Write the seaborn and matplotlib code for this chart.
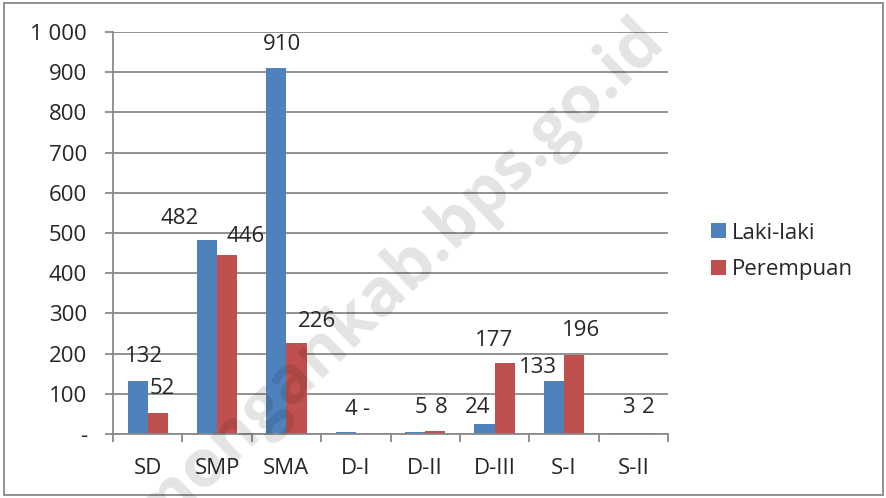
import pandas as pd
import numpy as np
import seaborn as sns
import matplotlib.pyplot as plt
from matplotlib.ticker import FuncFormatter
from matplotlib.patches import Rectangle, Patch

# data
categories = ["SD", "SMP", "SMA", "D-I", "D-II", "D-III", "S-I", "S-II"]
laki = [132, 482, 910, 4, 5, 24, 133, 3]
perempuan = [52, 446, 226, 0, 8, 177, 196, 2]
series = ["Laki-laki", "Perempuan"]
colors = ["#4F81BD", "#C0504D"]

# the data labels were dragged around by hand in the original -> nudges in pixels (dx, dy)
label_nudge = {
    "Laki-laki": [(6, 19), (-27, 16), (6, 18), (5, 17), (6, 19), (-7, 11), (-16, 8), (5, 20)],
    "Perempuan": [(5, 19), (19, 13), (21, 16), (0, 19), (6, 18), (-11, 17), (7, 19), (5, 20)],
}

df = pd.DataFrame({
    "Pendidikan": categories * 2,
    "Jenis Kelamin": [series[0]] * len(categories) + [series[1]] * len(categories),
    "Jumlah": laki + perempuan,
})

sns.set_style("white")
plt.rcParams["font.family"] = ["Open Sans", "DejaVu Sans"]

gray = "#898989"
fs = 16

fig = plt.figure(figsize=(8.86, 4.98), dpi=100)
ax = fig.add_axes([113 / 886, 64 / 498, 555 / 886, 402 / 498])

sns.barplot(data=df, x="Pendidikan", y="Jumlah", hue="Jenis Kelamin",
            palette=dict(zip(series, colors)), saturation=1, width=0.58,
            errorbar=None, linewidth=0, legend=False, ax=ax)

ax.set_xlim(-0.5, len(categories) - 0.5)
ax.set_ylim(0, 1000)
ax.set_yticks(np.arange(0, 1001, 100))
ax.yaxis.set_major_formatter(FuncFormatter(
    lambda v, p: "-" if v == 0 else f"{v:,.0f}".replace(",", " ")))
ax.set_xlabel("")
ax.set_ylabel("")

# axes look
for side in ["top", "right"]:
    ax.spines[side].set_visible(False)
for side in ["left", "bottom"]:
    ax.spines[side].set_color(gray)
    ax.spines[side].set_linewidth(1.3)
ax.set_axisbelow(True)
ax.yaxis.grid(True, color=gray, linewidth=1.3)
ax.xaxis.grid(False)

ax.set_xticks(np.arange(-0.5, len(categories), 1), minor=True)
ax.tick_params(axis="x", which="major", bottom=True, length=0, pad=17, labelsize=fs)
ax.tick_params(axis="x", which="minor", bottom=True, length=5.8, width=1.3, color=gray)
ax.tick_params(axis="y", left=True, length=5.8, width=1.3, color=gray, pad=13, labelsize=fs)

# data labels
for name, cont in zip(series, ax.containers):
    for bar, (dx, dy) in zip(cont, label_nudge[name]):
        h = bar.get_height()
        txt = "-" if h == 0 else f"{h:.0f}"
        ax.annotate(txt, (bar.get_x() + bar.get_width() / 2, h),
                    xytext=(dx, dy), textcoords="offset pixels",
                    ha="center", va="baseline", fontsize=fs)

handles = [Patch(facecolor=c, edgecolor="none") for c in colors]
fig.legend(handles, series, loc="center left", bbox_to_anchor=(711 / 886, 0.495),
           frameon=False, fontsize=fs, handlelength=0.66, handleheight=0.66,
           handletextpad=0.3, labelspacing=0.7, borderpad=0, borderaxespad=0)

# watermark
fig.text(388 / 886, 1 - 310 / 498, "lamongankab.bps.go.id", rotation=44,
         rotation_mode="anchor", ha="center", va="baseline", fontsize=48,
         fontweight="bold", color="black", alpha=0.11, zorder=10)

# outer frame
fig.add_artist(Rectangle((4 / 886, 3 / 498), 879 / 886, 492 / 498,
                         transform=fig.transFigure, fill=False,
                         edgecolor=gray, linewidth=1.3))

fig.savefig("out.png", dpi=100)
